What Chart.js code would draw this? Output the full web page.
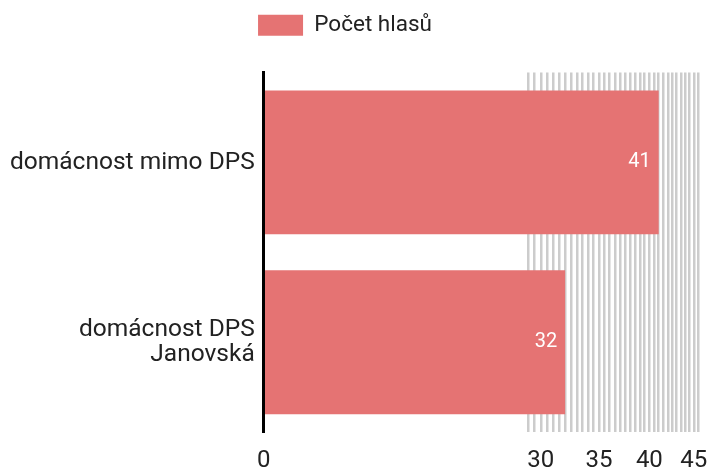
<!DOCTYPE html>
<html>
<head>
<meta charset="utf-8">
<script src="https://cdn.jsdelivr.net/npm/chart.js@4"></script>
<style>
html, body { margin: 0; padding: 0; background: #fff; }
#wrap { width: 712px; height: 467px; }
</style>
</head>
<body>
<div id="wrap"><canvas id="graf"></canvas></div>
<script>
const kategorie = ['domácnost mimo DPS', ['domácnost DPS', 'Janovská']];
const hlasy = [41, 32];
const nazevSerie = 'Počet hlasů';
// svislé čáry mřížky (log. osa)
const mrizka = [29, 29.5, 30, 30.5, 31, 31.5, 32, 32.5, 33, 33.5, 34, 34.5, 35, 35.5,
    36, 36.5, 37, 37.5, 38, 38.5, 39, 39.5, 40, 40.5, 41, 41.5, 42, 42.5, 43, 43.5,
    44, 44.5, 45, 45.5];
const popiskyOsy = [0, 30, 35, 40, 45];
const osaMin = 14.4;
const osaMax = 45.5;

const barva = '#e57373';
const barvaTextu = '#222';

Chart.defaults.font.family = 'Roboto';
Chart.defaults.color = barvaTextu;

// mezera pod legendou + posun legendy doleva
const mezeraLegendy = {
    id: 'mezeraLegendy',
    beforeInit(chart) {
        const fit = chart.legend.fit;
        chart.legend.fit = function () {
            fit.bind(chart.legend)();
            this.height += 26;
            if (this.lineWidths && this.lineWidths.length) this.lineWidths[0] += 9;
        };
    }
};

const hodnoty = {
    id: 'hodnoty',
    afterDatasetsDraw(chart) {
        const ctx = chart.ctx;
        const meta = chart.getDatasetMeta(0);
        ctx.save();
        ctx.font = '20px Roboto';
        ctx.fillStyle = '#fff';
        ctx.textAlign = 'right';
        ctx.textBaseline = 'middle';
        meta.data.forEach((bar, i) => {
            ctx.fillText(String(hlasy[i]), bar.x - 8, bar.y);
        });
        ctx.restore();
    }
};

new Chart(document.getElementById('graf'), {
    type: 'bar',
    data: {
        labels: kategorie,
        datasets: [{
            label: nazevSerie,
            data: hlasy,
            backgroundColor: barva,
            borderWidth: 0,
            categoryPercentage: 0.8,
            barPercentage: 1
        }]
    },
    options: {
        indexAxis: 'y',
        responsive: true,
        maintainAspectRatio: false,
        animation: false,
        layout: { padding: { left: 1, right: 14, top: 4, bottom: -22 } },
        plugins: {
            legend: {
                labels: {
                    font: { size: 22.5 },
                    boxWidth: 45,
                    boxHeight: 21,
                    padding: 10,
                    color: barvaTextu
                }
            },
            tooltip: { enabled: false }
        },
        scales: {
            x: {
                type: 'logarithmic',
                min: osaMin,
                max: osaMax,
                afterBuildTicks(scale) {
                    scale.ticks = [0].concat(mrizka).map(v => ({ value: v }));
                },
                grid: { color: '#cccccc', lineWidth: 2.5, drawTicks: false },
                border: { display: false },
                ticks: {
                    autoSkip: false,
                    maxRotation: 0,
                    minRotation: 0,
                    padding: 14,
                    font: { size: 24 },
                    color: barvaTextu,
                    callback(v) {
                        return popiskyOsy.includes(v) ? String(v) : '';
                    }
                }
            },
            y: {
                grid: { display: false, drawTicks: false },
                border: { display: true, color: '#000', width: 3, z: 1 },
                ticks: {
                    padding: 9,
                    font: { size: 24.5, lineHeight: 1.05 },
                    color: barvaTextu
                }
            }
        }
    },
    plugins: [mezeraLegendy, hodnoty]
});
</script>
</body>
</html>
